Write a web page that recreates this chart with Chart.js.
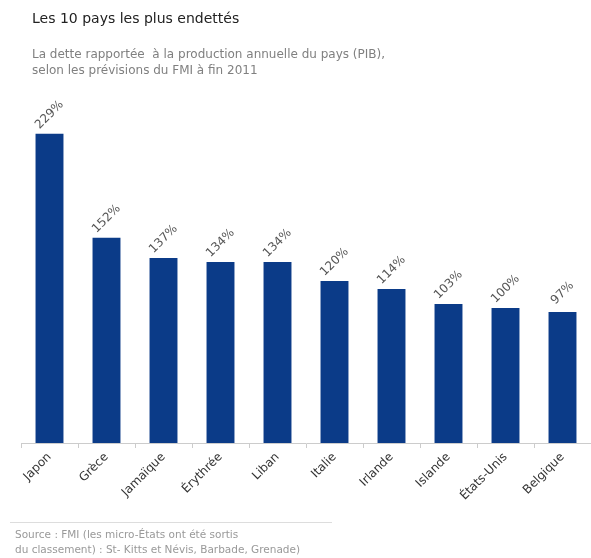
<!DOCTYPE html>
<html lang="fr">
<head>
<meta charset="utf-8">
<title>Les 10 pays les plus endettés</title>
<script src="https://cdn.jsdelivr.net/npm/chart.js@4/dist/chart.umd.min.js"></script>
<style>
  body { margin: 0; background: #fff; font-family: "DejaVu Sans", sans-serif; }
  #wrap { position: relative; width: 591px; height: 558px; overflow: hidden; }
  #chart { position: absolute; left: 0; top: 0; }
  .txt { position: absolute; white-space: nowrap; }
  #titre { left: 32px; top: 10px; font-size: 14px; color: #222; }
  #sous { left: 32px; top: 46px; font-size: 12px; line-height: 16px; color: #808080; }
  #ligne { position: absolute; left: 10px; top: 522px; width: 322px; height: 1px; background: #ddd; }
  #source { left: 15px; top: 527px; font-size: 10.5px; line-height: 15px; color: #999; }
</style>
</head>
<body>
<div id="wrap">
  <canvas id="chart" width="591" height="558"></canvas>
  <div class="txt" id="titre">Les 10 pays les plus endettés</div>
  <div class="txt" id="sous">La dette rapportée&nbsp; à la production annuelle du pays (PIB),<br>selon les prévisions du FMI à fin 2011</div>
  <div id="ligne"></div>
  <div class="txt" id="source">Source : FMI (les micro-États ont été sortis<br>du classement) : St- Kitts et Névis, Barbade, Grenade)</div>
</div>
<script>
// données
const pays = ['Japon', 'Grèce', 'Jamaïque', 'Érythrée', 'Liban', 'Italie', 'Irlande', 'Islande', 'États-Unis', 'Belgique'];
const dette = [229, 152, 137, 134, 134, 120, 114, 103, 100, 97];
const etiquettes = ['229%', '152%', '137%', '134%', '134%', '120%', '114%', '103%', '100%', '97%'];

// étiquettes inclinées au-dessus des barres
const valeursPlugin = {
    id: 'valeurs',
    afterDatasetsDraw(chart) {
        const ctx = chart.ctx;
        const meta = chart.getDatasetMeta(0);
        ctx.save();
        ctx.font = '12px "DejaVu Sans", sans-serif';
        ctx.fillStyle = '#555';
        ctx.textAlign = 'center';
        ctx.textBaseline = 'middle';
        meta.data.forEach((bar, i) => {
            ctx.save();
            ctx.translate(bar.x, bar.y - 19);
            ctx.rotate(-Math.PI / 4);
            ctx.fillText(etiquettes[i], 0, 0);
            ctx.restore();
        });
        ctx.restore();
    }
};

new Chart(document.getElementById('chart'), {
    type: 'bar',
    data: {
        labels: pays,
        datasets: [{
            data: dette,
            backgroundColor: '#0b3b88',
            barPercentage: 0.49,
            categoryPercentage: 1
        }]
    },
    options: {
        responsive: false,
        animation: false,
        layout: { padding: { top: 105.5, left: 21, right: 0, bottom: 0 } },
        plugins: {
            legend: { display: false },
            tooltip: { enabled: false }
        },
        scales: {
            y: { display: false, min: 0, max: 250 },
            x: {
                afterFit(scale) { scale.height = 115; },
                border: { color: '#ccc' },
                grid: { drawOnChartArea: false, color: '#ccc', tickLength: 5 },
                ticks: {
                    autoSkip: false,
                    minRotation: 45,
                    maxRotation: 45,
                    padding: 2,
                    color: '#333',
                    font: { family: '"DejaVu Sans", sans-serif', size: 12 }
                }
            }
        }
    },
    plugins: [valeursPlugin]
});
</script>
</body>
</html>
